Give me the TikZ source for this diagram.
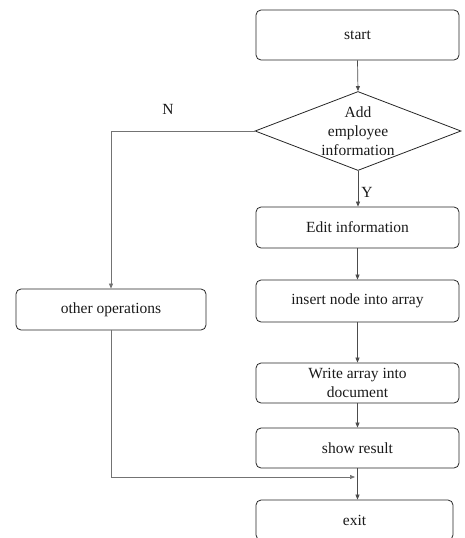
\documentclass[tikz,border=0pt]{standalone}
\usepackage{fontspec}
\setmainfont{Liberation Serif}
\usetikzlibrary{shapes.geometric,arrows.meta}
\begin{document}
\begin{tikzpicture}[x=1pt,y=-1pt,
  box/.style={draw=black!85, line width=0.8pt, rounded corners=5pt, inner sep=0pt, align=center,
    font=\fontsize{15.5}{19}\selectfont, text=black!90},
  conn/.style={draw=black!70, line width=0.7pt, -{Triangle[length=5pt,width=4pt]}},
  lconn/.style={draw=black!55, line width=0.7pt, -{Triangle[length=5pt,width=4pt]}},
  lbl/.style={font=\fontsize{15.5}{19}\selectfont, text=black!90, inner sep=0pt}]
\useasboundingbox (0,0) rectangle (464,538);
\clip (0,0) rectangle (464,538);
\node[box, minimum width=203, minimum height=50] (start) at (357.5,35) {start};
\node[diamond, draw=black!85, line width=0.8pt, minimum width=206, minimum height=79, inner sep=0pt] (dec) at (358,131) {};
\node[lbl, align=center] (dectext) at (358,131) {Add\\employee\\information};
\node[box, minimum width=203, minimum height=41] (edit) at (357.5,227.5) {Edit information};
\node[box, minimum width=203, minimum height=42] (insert) at (357.5,301) {insert node into array};
\node[box, minimum width=203, minimum height=40] (write) at (357.5,383) {Write array into\\document};
\node[box, minimum width=203, minimum height=40] (show) at (357.5,448) {show result};
\node[box, minimum width=197, minimum height=40] (exit) at (354.5,520) {exit};
\node[box, minimum width=190, minimum height=41] (other) at (111,309.5) {other operations};
\node[lbl] (N) at (168,109) {N};
\node[lbl] (Y) at (367,192) {Y};
\coordinate (join) at (355,477);
\draw[conn] (start.south) -- (dec.north);
\draw[conn] (dec.south) -- (dec.south |- edit.north);
\draw[conn] (edit.south) -- (insert.north);
\draw[conn] (insert.south) -- (write.north);
\draw[conn] (write.south) -- (show.south |- show.north);
\draw[conn] (show.south) -- (show.south |- exit.north);
\draw[lconn] (dec.west) -| (other.north);
\draw[lconn] (other.south) |- (join);
\end{tikzpicture}
\end{document}
